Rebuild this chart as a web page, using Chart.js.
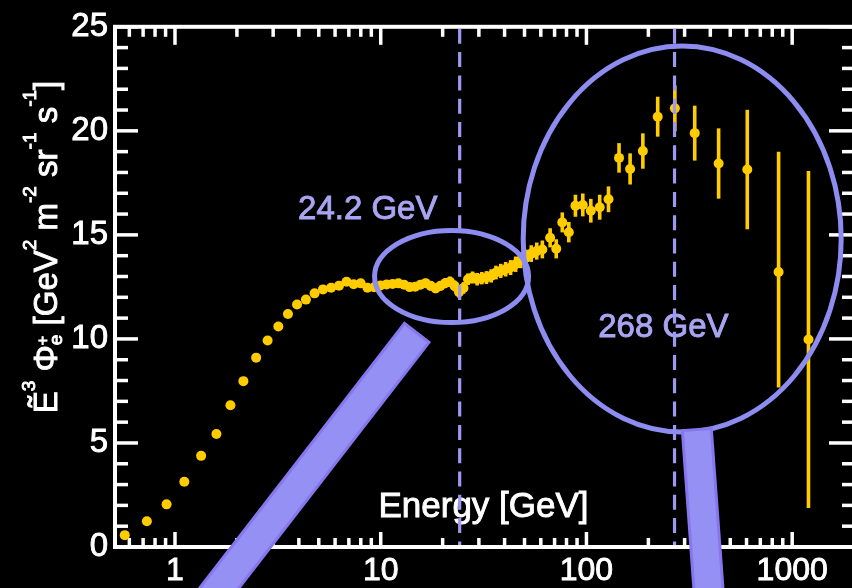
<!DOCTYPE html>
<html>
<head>
<meta charset="utf-8">
<script src="https://cdn.jsdelivr.net/npm/chart.js@4.4.1/dist/chart.umd.min.js"></script>
<style>
  html, body { margin: 0; padding: 0; background: #000; overflow: hidden; }
  #wrap { width: 860px; height: 588px; }
</style>
</head>
<body>
<div id="wrap"><canvas id="c" width="860" height="588"></canvas></div>
<script>
// positron flux times E^3
const energy = [
  0.57, 0.73, 0.91, 1.11, 1.34, 1.59, 1.86, 2.15, 2.48, 2.82, 3.18, 3.54, 3.92, 4.33, 4.77, 5.24,
  5.74, 6.27, 6.82, 7.39, 7.99, 8.62, 9.28,
  9.97, 10.68, 11.42, 12.19, 13.0, 13.83, 14.69, 15.59, 16.52, 17.49, 18.48, 19.51, 20.58, 21.69,
  22.83, 24.02, 25.26, 26.57, 27.96, 29.44, 31.01, 32.67, 34.44, 36.33, 38.34, 40.49, 42.79, 45.27,
  47.94, 50.82, 53.94, 57.34, 61.06,
  66.6, 71.3, 76.3, 82.1, 88.4, 96.0, 105, 116, 128, 144, 163, 188, 222, 269, 336, 439, 605, 859, 1200
];
const flux = [
  0.57, 1.24, 2.05, 3.14, 4.38, 5.43, 6.81, 7.97, 9.10, 9.92, 10.6, 11.2, 11.65, 11.89, 12.19, 12.38,
  12.46, 12.56, 12.75, 12.63, 12.67, 12.46, 12.48,
  12.57, 12.62, 12.64, 12.67, 12.60, 12.49, 12.51, 12.60, 12.68, 12.55, 12.43, 12.55, 12.68, 12.75,
  12.55, 12.25, 12.45, 12.87, 12.95, 12.87, 12.92, 12.95, 13.03, 13.19, 13.27, 13.35, 13.43, 13.59,
  13.78, 13.90, 14.10, 14.22, 14.30,
  14.86, 14.33, 15.60, 15.13, 16.40, 16.44, 16.16, 16.33, 16.71, 18.70, 18.17, 19.03, 20.68, 21.08,
  19.89, 18.43, 18.14, 13.22, 9.97
];
const errUp = [
  0.04, 0.05, 0.06, 0.07, 0.08, 0.08, 0.09, 0.09, 0.10, 0.10, 0.10, 0.11, 0.11, 0.11, 0.12, 0.12,
  0.12, 0.13, 0.13, 0.13, 0.14, 0.14, 0.15,
  0.16, 0.17, 0.18, 0.18, 0.19, 0.19, 0.20, 0.21, 0.21, 0.22, 0.23, 0.23, 0.24, 0.25,
  0.26, 0.27, 0.28, 0.28, 0.29, 0.30, 0.30, 0.31, 0.32, 0.33, 0.34, 0.35, 0.36, 0.37,
  0.38, 0.39, 0.40, 0.41, 0.43,
  0.46, 0.46, 0.48, 0.49, 0.53, 0.55, 0.57, 0.60, 0.62, 0.71, 0.75, 0.85, 0.96, 1.10,
  1.32, 1.69, 2.87, 5.77, 8.10
];
const errDown = errUp.slice(0, -2).concat([5.55, 8.10]);

const xTicks = [1, 10, 100, 1000];
const markers = [24.2, 268];
const markerLabels = ['24.2 GeV', '268 GeV'];
const xTitle = 'Energy [GeV]';

const FONT = '"Liberation Sans", Arial, Helvetica, sans-serif';
const GOLD = '#ffcc00';
const LAV = '#9d98f0';

// annotation geometry, in data units (energy, flux) plus pixel radii
const loupes = [
  { e: 22.1, f: 13.0, rx: 77, ry: 46 },
  { e: 292, f: 14.8, rx: 159, ry: 193 }
];
const handles = [
  { e1: 14.96, f1: 10.29, e2: 1.492, f2: -2.5, w: 31 },
  { e1: 344, f1: 5.645, e2: 395, f2: -2.5, w: 29 }
];
const labelPos = [
  { e: 8.65, f: 16.18 },
  { e: 236.6, f: 10.53 }
];
const xTitlePos = { e: 31.6, f: 1.9 };

// y title pieces: text, size, baseline shift, drawn over previous piece
const yTitleRuns = [
  { t: 'Ẽ', s: 33, dy: 0 },
  { t: '3', s: 19, dy: -22 },
  { t: ' Φ', s: 33, dy: 0 },
  { t: 'e', s: 19, dy: 5 },
  { t: '+', s: 16, dy: -9, back: true },
  { t: ' [GeV', s: 33, dy: 0 },
  { t: '2', s: 19, dy: -21 },
  { t: ' m', s: 33, dy: 0 },
  { t: '-2', s: 19, dy: -21 },
  { t: ' sr', s: 33, dy: 0 },
  { t: '-1', s: 19, dy: -21 },
  { t: ' s', s: 33, dy: 0 },
  { t: '-1', s: 19, dy: -21 },
  { t: ']', s: 33, dy: 0 }
];

function seg(ctx, x1, y1, x2, y2) {
  ctx.beginPath();
  ctx.moveTo(x1, y1);
  ctx.lineTo(x2, y2);
  ctx.stroke();
}

function boldText(ctx, t, x, y, color, size) {
  ctx.font = size + 'px ' + FONT;
  ctx.fillStyle = color;
  ctx.strokeStyle = color;
  ctx.lineWidth = 0.9;
  ctx.fillText(t, x, y);
  ctx.strokeText(t, x, y);
}

// frame, inward ticks and error bars
const framePlugin = {
  id: 'frame',
  beforeDatasetsDraw(chart) {
    const { ctx, chartArea: a, scales: { x, y } } = chart;
    ctx.save();
    ctx.strokeStyle = '#fff';
    ctx.lineWidth = 3.5;
    for (let d = -1; d <= 3; d++) {
      for (let m = 1; m <= 9; m++) {
        const v = m * Math.pow(10, d);
        if (v < x.min || v > x.max) continue;
        const px = x.getPixelForValue(v);
        const major = m === 1;
        seg(ctx, px, a.bottom, px, a.bottom - (major ? 15 : 9));
        seg(ctx, px, a.top, px, a.top + (major ? 18 : 10));
      }
    }
    for (let v = 0; v <= 25; v++) {
      const py = y.getPixelForValue(v);
      const major = v % 5 === 0;
      seg(ctx, a.left, py, a.left + (major ? 23 : 13), py);
      seg(ctx, a.right, py, a.right - (major ? 26 : 13), py);
    }
    ctx.lineWidth = 4;
    ctx.strokeRect(a.left, a.top, a.right - a.left, a.bottom - a.top);

    // error bars
    ctx.strokeStyle = GOLD;
    ctx.lineWidth = 3.6;
    energy.forEach((e, i) => {
      const px = x.getPixelForValue(e);
      seg(ctx, px, y.getPixelForValue(flux[i] + errUp[i]), px, y.getPixelForValue(flux[i] - errDown[i]));
    });
    ctx.restore();
  },
  afterDatasetsDraw(chart) {
    const { ctx, chartArea: a, scales: { x, y } } = chart;
    ctx.save();
    ctx.textAlign = 'center';
    ctx.textBaseline = 'middle';
    boldText(ctx, xTitle, x.getPixelForValue(xTitlePos.e), y.getPixelForValue(xTitlePos.f), '#fff', 35);
    markerLabels.forEach((t, i) => {
      boldText(ctx, t, x.getPixelForValue(labelPos[i].e), y.getPixelForValue(labelPos[i].f), '#a9a5f2', 33);
    });

    // dashed markers
    ctx.strokeStyle = LAV;
    ctx.lineWidth = 3.2;
    ctx.setLineDash([15, 8.3]);
    markers.forEach(m => {
      const px = x.getPixelForValue(m);
      seg(ctx, px, a.top + 2, px, a.bottom - 2);
    });
    ctx.setLineDash([]);

    // loupes
    ctx.strokeStyle = '#8d8cf0';
    ctx.lineWidth = 5;
    loupes.forEach(l => {
      ctx.beginPath();
      ctx.ellipse(x.getPixelForValue(l.e), y.getPixelForValue(l.f), l.rx, l.ry, 0, 0, Math.PI * 2);
      ctx.stroke();
    });

    // y title
    const cx = 57, cy = 247;
    ctx.translate(cx, cy);
    ctx.rotate(-Math.PI / 2);
    ctx.textAlign = 'left';
    ctx.textBaseline = 'alphabetic';
    let total = 0;
    yTitleRuns.forEach(r => {
      ctx.font = r.s + 'px ' + FONT;
      r.w = ctx.measureText(r.t).width;
      if (!r.back) total += r.w;
    });
    let pos = -total / 2, last = pos;
    yTitleRuns.forEach(r => {
      const at = r.back ? last : pos;
      boldText(ctx, r.t, at, r.dy, '#fff', r.s);
      if (!r.back) { last = pos; pos += r.w; }
    });
    ctx.restore();
  },
  afterDraw(chart) {
    const { ctx, scales: { x, y } } = chart;
    ctx.save();
    ctx.fillStyle = '#9590f3';
    ctx.strokeStyle = '#8677ee';
    ctx.lineWidth = 3;
    handles.forEach(h => {
      const x1 = x.getPixelForValue(h.e1), y1 = y.getPixelForValue(h.f1);
      const x2 = x.getPixelForValue(h.e2), y2 = y.getPixelForValue(h.f2);
      const L = Math.hypot(x2 - x1, y2 - y1);
      const nx = -(y2 - y1) / L * h.w / 2, ny = (x2 - x1) / L * h.w / 2;
      ctx.beginPath();
      ctx.moveTo(x1 + nx, y1 + ny);
      ctx.lineTo(x2 + nx, y2 + ny);
      ctx.lineTo(x2 - nx, y2 - ny);
      ctx.lineTo(x1 - nx, y1 - ny);
      ctx.closePath();
      ctx.fill();
      ctx.stroke();
    });
    ctx.restore();
  }
};

new Chart(document.getElementById('c'), {
  type: 'scatter',
  data: {
    datasets: [{
      data: energy.map((e, i) => ({ x: e, y: flux[i] })),
      pointRadius: 5,
      pointBackgroundColor: GOLD,
      pointBorderWidth: 0,
      showLine: false
    }]
  },
  options: {
    responsive: false,
    animation: false,
    devicePixelRatio: 1,
    layout: { padding: { left: 0, right: 4, top: 20, bottom: 0 } },
    plugins: { legend: { display: false }, tooltip: { enabled: false } },
    scales: {
      x: {
        type: 'logarithmic',
        min: 0.511,
        max: 2020,
        grid: { display: false, drawTicks: false },
        border: { display: false },
        afterBuildTicks: s => { s.ticks = xTicks.map(v => ({ value: v })); },
        afterFit: s => { s.height = 41; },
        ticks: {
          color: '#fff', font: { family: FONT, size: 32 }, padding: 5,
          textStrokeColor: '#fff', textStrokeWidth: 0.9,
          maxRotation: 0, autoSkip: false, callback: v => String(v)
        }
      },
      y: {
        min: 0,
        max: 25,
        grid: { display: false, drawTicks: false },
        border: { display: false },
        afterFit: s => { s.width = 115; },
        ticks: {
          stepSize: 5, color: '#fff', font: { family: FONT, size: 33 }, padding: 7,
          textStrokeColor: '#fff', textStrokeWidth: 0.9
        }
      }
    }
  },
  plugins: [framePlugin]
});
</script>
</body>
</html>
